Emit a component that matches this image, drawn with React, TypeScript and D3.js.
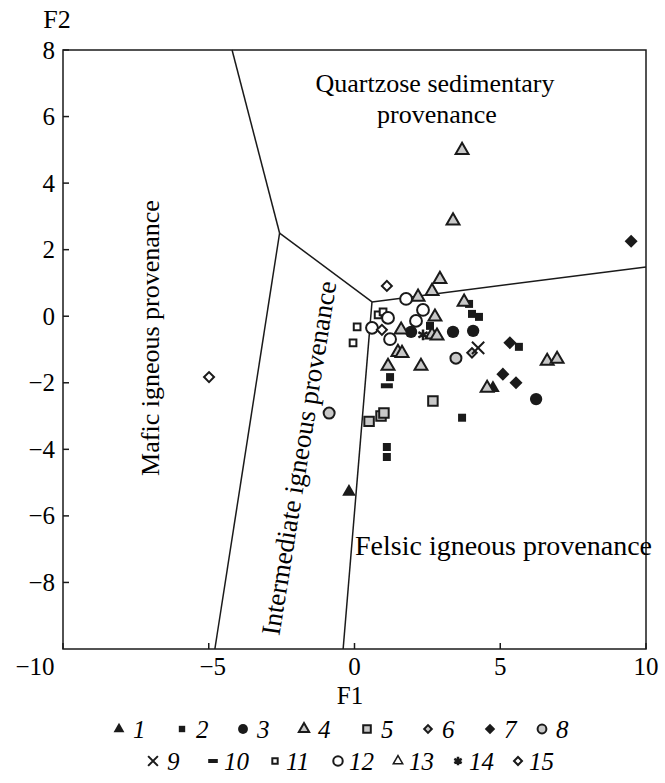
import React, { useRef, useEffect } from 'react';
import * as d3 from 'd3';

const W = 665;
const H = 783;

// sample groups, each point is [F1, F2]
const group1 = [[-0.19, -5.28], [4.75, -2.16]];
const group2 = [[3.93, 0.37], [4.03, 0.07], [4.27, -0.02], [5.64, -0.92], [3.69, -3.05], [1.22, -1.83], [1.11, -3.93], [1.11, -4.23], [2.59, -0.29]];
const group3 = [[1.94, -0.47], [3.38, -0.47], [4.07, -0.44], [6.23, -2.49]];
const group4 = [[3.69, 4.99], [3.38, 2.87], [2.93, 1.11], [2.66, 0.75], [2.18, 0.58], [3.76, 0.43], [2.76, -0.02], [1.6, -0.41], [2.66, -0.56], [2.83, -0.59], [1.49, -1.08], [1.63, -1.11], [1.15, -1.5], [2.28, -1.5], [4.55, -2.16], [6.61, -1.35], [6.95, -1.29]];
const group5 = [[0.5, -3.16], [0.91, -3.0], [1.01, -2.91], [2.69, -2.55]];
const group6 = [[4.03, -1.1]];
const group7 = [[9.49, 2.25], [5.33, -0.8], [5.09, -1.74], [5.54, -2.0]];
const group8 = [[3.48, -1.26], [-0.87, -2.91]];
const group9 = [[4.24, -0.95]];
const group10 = [[1.11, -2.09]];
const group11 = [[0.09, -0.32], [-0.05, -0.8], [0.81, 0.04], [0.98, 0.13]];
const group12 = [[1.77, 0.52], [2.35, 0.19], [2.11, -0.14], [1.15, -0.05], [0.6, -0.35], [1.22, -0.69]];
const group13: number[][] = [];
const group14 = [[2.35, -0.56]];
const group15 = [[1.11, 0.91], [0.94, -0.41], [-4.99, -1.83]];

const groups = [group1, group2, group3, group4, group5, group6, group7, group8, group9, group10, group11, group12, group13, group14, group15];
const groupLabels = ['1', '2', '3', '4', '5', '6', '7', '8', '9', '10', '11', '12', '13', '14', '15'];

const xTicks = [-10, -5, 0, 5, 10];
const yTicks = [8, 6, 4, 2, 0, -2, -4, -6, -8];

// field boundaries (Roser & Korsch)
const junctionA = [-2.57, 2.5];
const junctionB = [0.6, 0.43];
const boundaries = [
  [[-4.2, 8], junctionA],
  [junctionA, [-4.79, -10]],
  [junctionA, junctionB],
  [junctionB, [10, 1.48]],
  [junctionB, [-0.39, -10]],
];

const GRAY = '#c8c8c8';
const INK = '#1a1a1a';

// marker look per group
const markerStyle = (i: number, k: number) => {
  const s = k * k;
  switch (i) {
    case 0: return { type: d3.symbolTriangle, size: 80 * s, fill: INK, stroke: 'none', sw: 0, rot: 0 };
    case 1: return { type: d3.symbolSquare, size: 64 * s, fill: INK, stroke: 'none', sw: 0, rot: 0 };
    case 2: return { type: d3.symbolCircle, size: 120 * s, fill: INK, stroke: 'none', sw: 0, rot: 0 };
    case 3: return { type: d3.symbolTriangle, size: 72 * s, fill: GRAY, stroke: INK, sw: 2, rot: 0 };
    case 4: return { type: d3.symbolSquare, size: 90 * s, fill: GRAY, stroke: INK, sw: 2, rot: 0 };
    case 5: return { type: d3.symbolSquare, size: 45 * s, fill: GRAY, stroke: INK, sw: 2, rot: 45 };
    case 6: return { type: d3.symbolSquare, size: 85 * s, fill: INK, stroke: 'none', sw: 0, rot: 45 };
    case 7: return { type: d3.symbolCircle, size: 95 * s, fill: GRAY, stroke: INK, sw: 2, rot: 0 };
    case 8: return { type: d3.symbolX, size: 100 * s, fill: 'none', stroke: INK, sw: 2, rot: 0 };
    case 10: return { type: d3.symbolSquare, size: 45 * s, fill: 'white', stroke: INK, sw: 2, rot: 0 };
    case 11: return { type: d3.symbolCircle, size: 110 * s, fill: 'white', stroke: INK, sw: 2, rot: 0 };
    case 12: return { type: d3.symbolTriangle, size: 60 * s, fill: 'white', stroke: INK, sw: 1.5, rot: 0 };
    case 13: return { type: d3.symbolAsterisk, size: 80 * s, fill: 'none', stroke: INK, sw: 2.5, rot: 0 };
    default: return { type: d3.symbolSquare, size: 50 * s, fill: 'white', stroke: INK, sw: 2, rot: 45 };
  }
};

const drawMarker = (g: any, i: number, cx: number, cy: number, k: number) => {
  if (i === 9) {
    // bar marker
    g.append('rect')
      .attr('x', cx - 6 * k).attr('y', cy - 2.5 * k)
      .attr('width', 12 * k).attr('height', 5 * k)
      .attr('fill', INK);
    return;
  }
  const st = markerStyle(i, k);
  g.append('path')
    .attr('d', d3.symbol().type(st.type).size(st.size)())
    .attr('transform', `translate(${cx},${cy}) rotate(${st.rot})`)
    .attr('fill', st.fill)
    .attr('stroke', st.stroke)
    .attr('stroke-width', st.sw)
    .attr('stroke-linejoin', 'miter');
};

const App = () => {
  const svgRef = useRef<SVGSVGElement>(null);

  useEffect(() => {
    const svg = d3.select(svgRef.current);
    svg.selectAll('*').remove();

    const margin = { top: 50, right: 19, bottom: 134, left: 63 };
    const innerW = W - margin.left - margin.right;
    const innerH = H - margin.top - margin.bottom;
    const font = "'Liberation Serif', 'Times New Roman', serif";

    const x = d3.scaleLinear().domain([-10, 10]).range([margin.left, margin.left + innerW]);
    const y = d3.scaleLinear().domain([-10, 8]).range([margin.top + innerH, margin.top]);

    // frame
    svg.append('rect')
      .attr('x', margin.left).attr('y', margin.top)
      .attr('width', innerW).attr('height', innerH)
      .attr('fill', 'none').attr('stroke', INK).attr('stroke-width', 1.5);

    // ticks
    yTicks.forEach(t => {
      svg.append('line')
        .attr('x1', margin.left).attr('x2', margin.left + 6)
        .attr('y1', y(t)).attr('y2', y(t))
        .attr('stroke', INK).attr('stroke-width', 1.5);
      svg.append('text')
        .attr('x', margin.left - 8).attr('y', y(t))
        .attr('text-anchor', 'end').attr('dominant-baseline', 'central')
        .style('font-family', font).style('font-size', '25px')
        .text(t < 0 ? `\u2212${-t}` : `${t}`);
    });
    xTicks.forEach(t => {
      svg.append('line')
        .attr('x1', x(t)).attr('x2', x(t))
        .attr('y1', y(-10)).attr('y2', y(-10) - 6)
        .attr('stroke', INK).attr('stroke-width', 1.5);
      const lx = t === -10 ? x(t) - 28 : x(t) + (t < 0 ? 4 : 0);
      svg.append('text')
        .attr('x', lx).attr('y', y(-10) + 26)
        .attr('text-anchor', 'middle')
        .style('font-family', font).style('font-size', '25px')
        .text(t < 0 ? `\u2212${-t}` : `${t}`);
    });

    // axis titles
    svg.append('text').attr('x', 57).attr('y', 28).attr('text-anchor', 'middle')
      .style('font-family', font).style('font-size', '26px').text('F2');
    svg.append('text').attr('x', 350).attr('y', 704).attr('text-anchor', 'middle')
      .style('font-family', font).style('font-size', '25px').text('F1');

    // boundaries
    const line = d3.line<number[]>().x(d => x(d[0])).y(d => y(d[1]));
    svg.append('g').selectAll('path')
      .data(boundaries)
      .enter()
      .append('path')
      .attr('d', d => line(d as number[][]))
      .attr('fill', 'none').attr('stroke', INK).attr('stroke-width', 1.5);

    // field labels
    const label = (txt: string, tx: number, ty: number, rot: number, size: number, anchor = 'middle') => {
      svg.append('text')
        .attr('transform', `translate(${tx},${ty}) rotate(${rot})`)
        .attr('text-anchor', anchor).attr('dominant-baseline', 'central')
        .style('font-family', font).style('font-size', `${size}px`)
        .text(txt);
    };
    label('Quartzose sedimentary', 435, 83, 0, 26);
    label('provenance', 437, 114, 0, 26);
    label('Mafic igneous provenance', 150, 338, -90, 26);
    label('Intermediate igneous provenance', 299, 458, -80.8, 27);
    label('Felsic igneous provenance', 355, 545, 0, 28, 'start');

    // points
    const pts = svg.append('g');
    groups.forEach((grp, i) => {
      grp.forEach(d => drawMarker(pts, i, x(d[0]), y(d[1]), 1));
    });

    // legend
    const legend = svg.append('g');
    const row1 = [119, 182, 243, 304, 367, 428, 490, 542];
    const row2 = [153, 213, 275, 338, 398, 458, 518];
    groupLabels.forEach((lab, i) => {
      const first = i < 8;
      const mx = first ? row1[i] : row2[i - 8];
      const my = first ? 729 : 761;
      drawMarker(legend, i, mx, my, 0.8);
      legend.append('text')
        .attr('x', mx + (lab.length > 1 ? 11 : 14)).attr('y', my)
        .attr('dominant-baseline', 'central')
        .style('font-family', font).style('font-size', '25px').style('font-style', 'italic')
        .text(lab);
    });
  }, []);

  return (
    <svg ref={svgRef} width={W} height={H} style={{ position: 'absolute', left: 0, top: 0, background: 'white' }} />
  );
};

export default App;
